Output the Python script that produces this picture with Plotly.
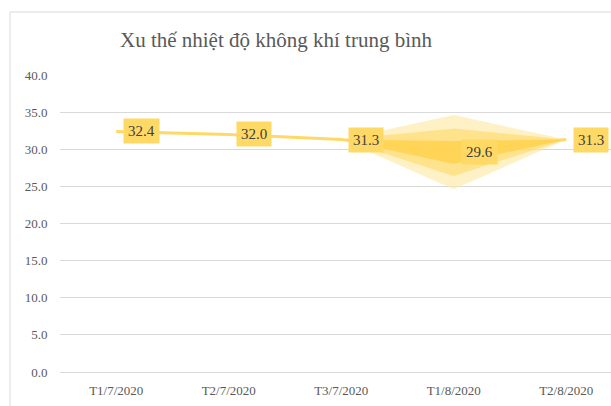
import plotly.graph_objects as go

categories = ["T1/7/2020", "T2/7/2020", "T3/7/2020", "T1/8/2020", "T2/8/2020"]
temps = [32.4, 32.0, 31.3, 29.6, 31.3]
y_ticks = [0, 5, 10, 15, 20, 25, 30, 35, 40]
y_tick_labels = ["0.0", "5.0", "10.0", "15.0", "20.0", "25.0", "30.0", "35.0", "40.0"]

band_cats = ["T3/7/2020", "T1/8/2020", "T2/8/2020"]
outer_hi = [31.3, 34.6, 31.3]
outer_lo = [31.3, 24.6, 31.3]
mid_hi = [31.3, 32.8, 31.3]
mid_lo = [31.3, 26.4, 31.3]
inner_hi = [31.3, 31.1, 31.3]
inner_lo = [31.3, 28.0, 31.3]

SERIF = "Liberation Serif, Times New Roman, serif"
LINE = "#FFD966"

W, H = 625, 406
fig = go.Figure()

fig.add_trace(go.Scatter(x=categories, y=temps, mode="lines",
                         line=dict(color=LINE, width=3), hoverinfo="skip",
                         showlegend=False))

for hi, lo, col in [(outer_hi, outer_lo, "rgba(255,232,160,0.6)"),
                    (mid_hi, mid_lo, "rgba(255,217,102,0.6)"),
                    (inner_hi, inner_lo, "rgba(255,210,80,0.85)")]:
    fig.add_trace(go.Scatter(x=band_cats + band_cats[::-1], y=hi + lo[::-1],
                             fill="toself", fillcolor=col, mode="lines",
                             line=dict(width=0), hoverinfo="skip", showlegend=False))

for c, v in zip(categories, temps):
    fig.add_annotation(x=c, y=v, text=f"{v:.1f}", showarrow=False,
                       xanchor="left", yanchor="middle", xshift=7,
                       bgcolor="#FFD966", borderpad=4,
                       font=dict(family=SERIF, size=15, color="#404040"))

pw = W - 60
fx0 = (10 - 60) / pw
fig.add_shape(type="line", xref="paper", yref="paper",
              x0=fx0, x1=fx0, y0=-0.5, y1=1.212,
              line=dict(color="#D9D9D9", width=1), layer="below")
fig.add_shape(type="line", xref="paper", yref="paper",
              x0=fx0, x1=1.5, y0=1.212, y1=1.212,
              line=dict(color="#D9D9D9", width=1), layer="below")

fig.update_layout(
    width=W, height=H,
    margin=dict(l=60, r=0, t=75, b=34),
    paper_bgcolor="white", plot_bgcolor="white",
    title=dict(text="Xu thế nhiệt độ không khí trung bình",
               x=276 / W, xanchor="center", xref="container",
               y=1 - 40 / H, yanchor="middle", yref="container",
               font=dict(family=SERIF, size=21, color="#595959")),
    xaxis=dict(type="category", categoryorder="array", categoryarray=categories,
               range=[-0.5, -0.5 + pw / 112.5], showgrid=False, showline=True,
               linecolor="#D9D9D9", linewidth=1,
               ticks="outside", ticklen=6, tickcolor="rgba(0,0,0,0)",
               tickfont=dict(family=SERIF, size=13, color="#595959")),
    yaxis=dict(range=[0, 40], tickvals=y_ticks, ticktext=y_tick_labels,
               showgrid=True, gridcolor="#D9D9D9", gridwidth=1,
               zeroline=False, showline=False,
               ticks="outside", ticklen=9, tickcolor="rgba(0,0,0,0)",
               tickfont=dict(family=SERIF, size=13, color="#595959")),
    showlegend=False,
)

fig.write_html("out.html", config={"displayModeBar": False},
               post_script=("document.body.style.margin='0';"
                            "document.body.style.overflow='hidden';"
                            "document.documentElement.style.overflow='hidden';"))
